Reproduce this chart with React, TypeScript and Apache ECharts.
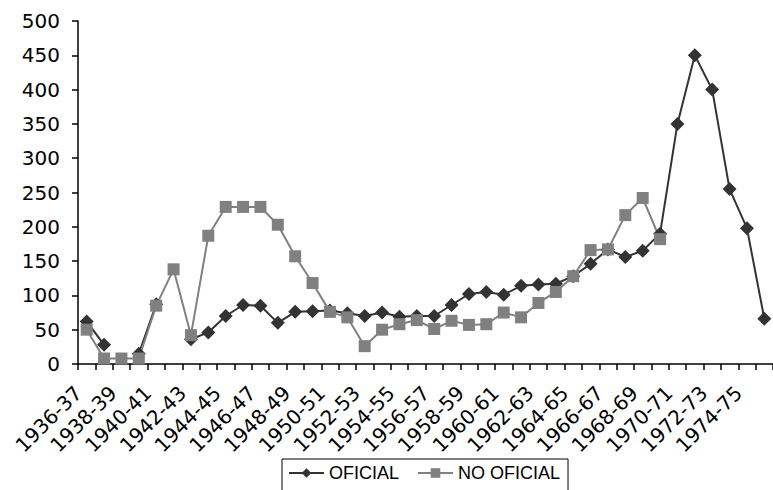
import React, { useEffect, useRef } from "react";
import * as echarts from "echarts";

const categories = [
  "1936-37", "1937-38", "1938-39", "1939-40", "1940-41", "1941-42", "1942-43", "1943-44",
  "1944-45", "1945-46", "1946-47", "1947-48", "1948-49", "1949-50", "1950-51", "1951-52",
  "1952-53", "1953-54", "1954-55", "1955-56", "1956-57", "1957-58", "1958-59", "1959-60",
  "1960-61", "1961-62", "1962-63", "1963-64", "1964-65", "1965-66", "1966-67", "1967-68",
  "1968-69", "1969-70", "1970-71", "1971-72", "1972-73", "1973-74", "1974-75", "1975-76",
];

const oficial = [
  62, 28, null, 15, 87, null, 36, 46, 70, 86, 85, 60, 76, 77, 78, 74, 70, 75, 69, 70,
  70, 86, 102, 105, 101, 114, 116, 117, 128, 146, 167, 156, 165, 190, 350, 450, 400, 255, 198, 66,
];

const noOficial = [
  50, 8, 8, 8, 85, 138, 42, 187, 229, 229, 229, 203, 157, 118, 76, 68, 26, 50, 58, 64,
  51, 63, 57, 58, 75, 68, 89, 105, 128, 166, 167, 217, 242, 182, null, null, null, null, null, null,
];

const yTicks = { min: 0, max: 500, interval: 50 };

export default function App() {
  const ref = useRef<HTMLDivElement>(null);
  useEffect(() => {
    document.body.style.margin = "0";
    const chart = echarts.init(ref.current!, undefined, { renderer: "svg" });
    const axisFont = { fontFamily: "DejaVu Sans", fontSize: 20, color: "#000" };
    chart.setOption({
      animation: false,
      backgroundColor: "#fff",
      grid: { left: 78, right: -2, top: 21, bottom: 126, containLabel: false },
      legend: {
        left: 282,
        top: 459,
        orient: "horizontal",
        borderColor: "#000",
        borderWidth: 1,
        padding: [5, 8, 12, 6],
        itemGap: 18,
        itemWidth: 35,
        itemHeight: 12,
        textStyle: {
          fontFamily: "Liberation Sans Narrow, Liberation Sans, Arial",
          fontSize: 18,
          color: "#000",
        },
        data: ["OFICIAL", "NO OFICIAL"],
      },
      xAxis: {
        type: "category",
        data: categories,
        boundaryGap: true,
        axisLine: { lineStyle: { color: "#000", width: 1.5 } },
        axisTick: { show: true, interval: 0, length: 6, lineStyle: { color: "#000", width: 1.5 } },
        axisLabel: { ...axisFont, interval: 1, rotate: 45, margin: 17, padding: [0, 12, 0, 0] },
        splitLine: { show: false },
      },
      yAxis: {
        type: "value",
        min: yTicks.min,
        max: yTicks.max,
        interval: yTicks.interval,
        axisLine: { show: true, lineStyle: { color: "#000", width: 1.5 } },
        axisTick: { show: true, length: 6, lineStyle: { color: "#000", width: 1.5 } },
        axisLabel: { ...axisFont, margin: 18 },
        splitLine: { show: false },
      },
      series: [
        {
          name: "OFICIAL",
          type: "line",
          data: oficial,
          connectNulls: false,
          showAllSymbol: true,
          symbol: "diamond",
          symbolSize: 14,
          itemStyle: { color: "#333333" },
          lineStyle: { color: "#333333", width: 2 },
        },
        {
          name: "NO OFICIAL",
          type: "line",
          data: noOficial,
          connectNulls: false,
          showAllSymbol: true,
          symbol: "rect",
          symbolSize: 12,
          itemStyle: { color: "#808080" },
          lineStyle: { color: "#808080", width: 2 },
        },
      ],
    });
    return () => chart.dispose();
  }, []);
  return <div ref={ref} style={{ width: 773, height: 490 }} />;
}
